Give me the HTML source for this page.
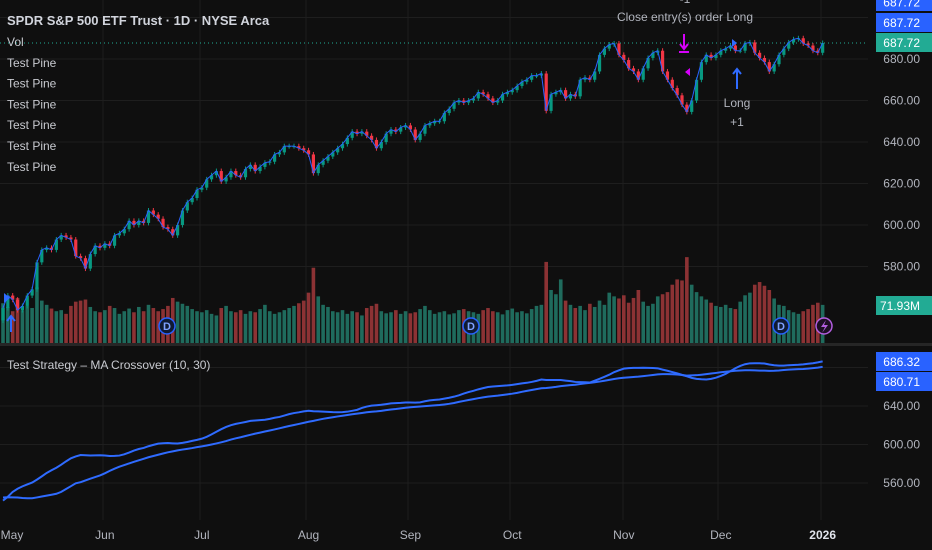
<!DOCTYPE html>
<html><head><meta charset="utf-8">
<style>
html,body{margin:0;padding:0;background:#0f0f0f;}
svg{display:block;font-family:"Liberation Sans",sans-serif;}
</style></head>
<body>
<svg id="c" width="932" height="550" viewBox="0 0 932 550" xmlns="http://www.w3.org/2000/svg">
<rect x="0" y="0" width="932" height="550" fill="#0f0f0f"/>
<g id="grid"></g>
<g id="vol"></g>
<g id="candles"></g>
<g id="ma"></g>
<g id="anno"></g>
<g id="axes"></g>
<g id="legend"></g>
</svg>
<script>
const preCloses=[560,567,563,575,575,570,556,559,561,560,564,536,505,504,496,548,524,533,539,537,526,513,527,536,546,550,551,554,554];
const closes=[560,566,564,559,561,566,569,582,588,589,
588,593,595,594,593,585,584,579,586,590,
589,591,590,595,596,598,602,600,602,601,
607,605,603,599,598,595,600,607,611,613,
617,618,622,624,626,621,623,626,624,623,
627,629,626,628,630,630.5,634,635,638,638,
638,637,636,634,625,629,631,633,635,637,
639,642,645,644,645,643,641,637,640,644,
646,645,647,648,646,641,644,648,649,650,
650,654,656,659,660,659,660,661,664,663,
661,659,660,663,664,665,667,669,670,672,
672,673,655,663,664,665,661,663,662,670,
671,670,674,682,685,687,687.5,682,679.5,675.5,
674,670,675.5,680.5,683,684,674,670,666,662.5,
658,654.5,660,670,678.5,682,680.5,682,684,685,
686.5,684,684,687.5,688,683,680.5,678.5,674,677.5,
682,685,688,689.5,690,687.5,686.5,684,683,687.72];
const volumes=[75,68,60,85,62,70,66,105,80,72,
65,60,62,55,70,78,80,82,68,60,
58,62,70,66,55,60,65,58,68,60,
72,66,60,64,70,85,78,74,70,64,
60,58,62,55,52,66,70,60,58,62,
55,60,58,64,72,60,55,58,62,66,
70,75,80,95,142,88,72,68,60,58,
62,55,60,58,52,66,70,74,60,56,
58,62,55,60,56,58,64,70,62,55,
58,60,54,56,62,64,60,58,55,62,
66,60,58,54,62,65,58,60,56,64,
70,72,153,100,92,120,80,72,66,70,
62,74,68,80,72,95,88,84,90,76,
85,100,78,70,74,88,92,96,110,120,
118,162,110,96,88,82,76,70,68,72,
66,64,78,90,95,110,115,108,100,84,
72,70,62,58,55,60,64,72,76,71.93];
const mainTicks=[680,660,640,620,600,580];
const maTicks=[640,600,560];
const monthLabels=["May","Jun","Jul","Aug","Sep","Oct","Nov","Dec","2026"];
const monthBars=[0,21,41,63,84,105,128,148,169];
const legendLines=["Vol","Test Pine","Test Pine","Test Pine","Test Pine","Test Pine","Test Pine"];

const NS="http://www.w3.org/2000/svg";
function mk(tag,attrs,parent,text){const e=document.createElementNS(NS,tag);for(const k in attrs)e.setAttribute(k,attrs[k]);if(text!==undefined)e.textContent=text;parent.appendChild(e);return e;}
const xB=i=>3+i*4.85;
const yP=p=>59+(680-p)*2.075;
const yM=p=>406+(640-p)*0.9625;
const yV=v=>343-v*0.53;
const G=id=>document.getElementById(id);

// grid
const grid=G('grid');
const vx=[103,200,306,408,510,623,718,821];
vx.forEach(x=>{const l=mk('line',{x1:x,x2:x,y1:0,y2:520,stroke:'#1e1e1e','stroke-width':1},grid);});
[700].concat(mainTicks).forEach(p=>{const l=mk('line',{x1:0,x2:868,y1:yP(p),y2:yP(p),stroke:'#1e1e1e'},grid);});
[680].concat(maTicks).forEach(p=>{const l=mk('line',{x1:0,x2:868,y1:yM(p),y2:yM(p),stroke:'#1e1e1e'},grid);});
const sep=mk('rect',{x:0,y:343,width:932,height:3,fill:'#262626'},grid);

const lastPriceLine=mk('line',{x1:0,x2:868,y1:yP(closes[closes.length-1]),y2:yP(closes[closes.length-1]),stroke:'#22ab94','stroke-dasharray':'1 3'},grid);


// volume
const vol=G('vol');
volumes.forEach((v,i)=>{const o=i===0?preCloses[preCloses.length-1]:closes[i-1];const up=closes[i]>=o;
const r=mk('rect',{x:xB(i)-1.8,y:yV(v),width:3.6,height:343-yV(v),fill:up?'#1f6b5d':'#8c3234'},vol);
});

// candles
const cg=G('candles');
const pts=closes.map((c,i)=>xB(i)+','+yP(c)).join(' ');
closes.forEach((c,i)=>{const o=i===0?preCloses[preCloses.length-1]:closes[i-1];const up=c>=o;const col=up?'#089981':'#f23645';
const hi=Math.max(o,c)+1.2,lo=Math.min(o,c)-1.2;
const w=mk('line',{x1:xB(i),x2:xB(i),y1:yP(hi),y2:yP(lo),stroke:col,'stroke-width':1},cg);

const top=yP(Math.max(o,c)),bot=yP(Math.min(o,c));
const b=mk('rect',{x:xB(i)-1.6,y:top,width:3.2,height:Math.max(1,bot-top),fill:col},cg);
});
const pl=mk('polyline',{points:pts,fill:'none',stroke:'#2962ff','stroke-width':1},cg);


// moving averages
const all=preCloses.concat(closes);const off=preCloses.length;
function sma(n,i){let s=0;for(let k=0;k<n;k++)s+=all[off+i-k];return s/n;}
const fast=closes.map((_,i)=>sma(10,i));const slow=closes.map((_,i)=>sma(30,i));
const mg=G('ma');
const f=mk('polyline',{points:fast.map((v,i)=>xB(i)+','+yM(v)).join(' '),fill:'none',stroke:'#2f6bff','stroke-width':2},mg);

const s=mk('polyline',{points:slow.map((v,i)=>xB(i)+','+yM(v)).join(' '),fill:'none',stroke:'#2f6bff','stroke-width':2},mg);


// annotations
const an=G('anno');
let t=mk('text',{x:685,y:21,fill:'#b2b5be','font-size':12,'text-anchor':'middle'},an,'Close entry(s) order Long');

t=mk('text',{x:685,y:3,fill:'#b2b5be','font-size':12,'text-anchor':'middle'},an,'-1');

let a=mk('path',{d:'M684 34 V48 M680 44 L684 49 L688 44 M679 52 H689',stroke:'#d500f9','stroke-width':2,fill:'none'},an);

a=mk('path',{d:'M690 68 L685 72 L690 76 Z',fill:'#d500f9'},an);

a=mk('path',{d:'M737 89 V70 M733 74 L737 69 L741 74',stroke:'#2f6bff','stroke-width':2,fill:'none'},an);

a=mk('path',{d:'M732 39 L737 43 L732 47 Z',fill:'#2f6bff'},an);

t=mk('text',{x:737,y:107,fill:'#b2b5be','font-size':12,'text-anchor':'middle'},an,'Long');

t=mk('text',{x:737,y:126,fill:'#b2b5be','font-size':12,'text-anchor':'middle'},an,'+1');

a=mk('path',{d:'M11 332 V317 M7 321 L11 316 L15 321',stroke:'#2f6bff','stroke-width':2,fill:'none'},an);

a=mk('path',{d:'M4 293 L10 298 L4 303 Z',fill:'#2f6bff'},an);

[167,471,781].forEach(x=>{const g=mk('g',{},an);
mk('circle',{cx:x,cy:326,r:8,fill:'#0f1a33',stroke:'#2962ff','stroke-width':1.5},g);
mk('text',{x:x,y:330,fill:'#7fa1ff','font-size':11,'text-anchor':'middle','font-weight':'bold'},g,'D');});
const eg=mk('g',{},an);
mk('circle',{cx:824,cy:326,r:8,fill:'#1d0f24',stroke:'#b35ee0','stroke-width':1.5},eg);
mk('path',{d:'M826 320 L821 327 H825 L822 333 L828 325 H824 Z',fill:'#b35ee0'},eg);

// axes
const ax=G('axes');
mainTicks.forEach(p=>{const e=mk('text',{x:920,y:yP(p)+4,fill:'#b2b5be','font-size':12,'text-anchor':'end'},ax,p.toFixed(2));});
maTicks.forEach(p=>{const e=mk('text',{x:920,y:yM(p)+4,fill:'#b2b5be','font-size':12,'text-anchor':'end'},ax,p.toFixed(2));});
monthLabels.forEach((m,i)=>{const x=i===0?12:xB(monthBars[i]);const e=mk('text',{x:x,y:539,fill:i===8?'#e0e3eb':'#b2b5be','font-size':12,'font-weight':i===8?'bold':'normal','text-anchor':'middle'},ax,m);});
function box(y,h,fill,txt,name){const g=mk('g',{},ax);
mk('rect',{x:876,y:y,width:56,height:h,fill:fill},g);mk('text',{x:920,y:y+h/2+4.5,fill:'#ffffff','font-size':12,'text-anchor':'end'},g,txt);}
const lc=closes[closes.length-1].toFixed(2);
box(-7,18,'#2962ff',lc,'price-label-top');
box(13,19,'#2962ff',lc,'price-label-blue');
box(33,19,'#22ab94',lc,'last-price-label');
box(296,19,'#22ab94',volumes[volumes.length-1].toFixed(2)+'M','volume-label');
box(352,19,'#2962ff',fast[fast.length-1].toFixed(2),'fast-ma-label');
box(372,19,'#2962ff',slow[slow.length-1].toFixed(2),'slow-ma-label');

// legend
const lg=G('legend');
t=mk('text',{x:7,y:25,fill:'#d1d4dc','font-size':13,'font-weight':'bold'},lg,'SPDR S&P 500 ETF Trust · 1D · NYSE Arca');

legendLines.forEach((s,i)=>{const e=mk('text',{x:7,y:46+i*20.8,fill:'#c8cad0','font-size':12},lg,s);});
t=mk('text',{x:7,y:369,fill:'#c8cad0','font-size':12},lg,'Test Strategy – MA Crossover (10, 30)');

</script>
</body></html>
